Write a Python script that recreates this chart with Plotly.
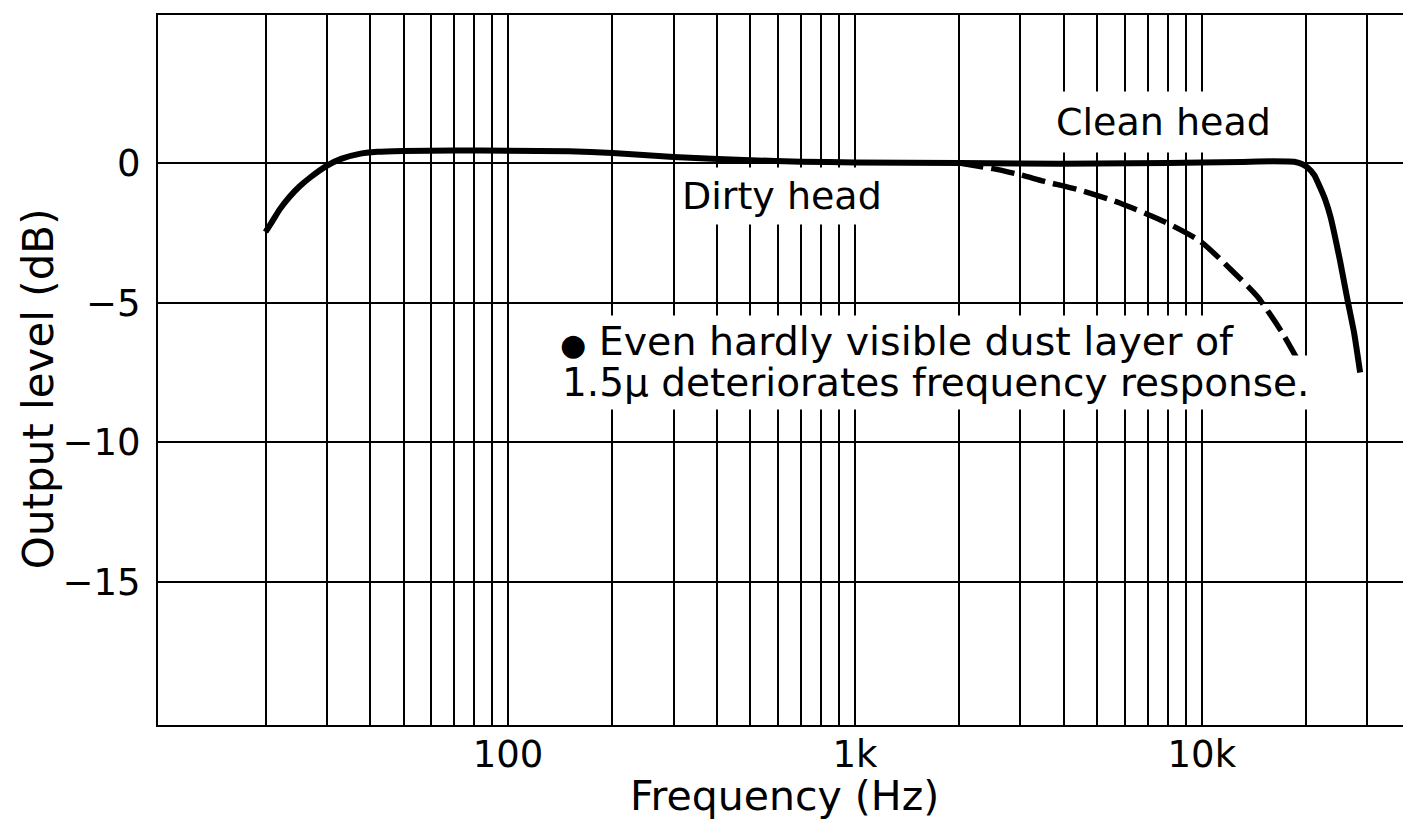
import plotly.graph_objects as go

# ---- data ----
clean_freq = [20, 21, 22, 23.5, 25, 27, 30, 33, 37, 42, 50, 70, 100, 150, 200, 300, 500, 700,
              1000, 2000, 3000, 5000, 8000, 10000, 13000, 16000, 18600, 19500, 20100, 21100,
              21900, 22700, 23500, 25000, 26300, 27500, 28600]
clean_db = [-2.47, -2.05, -1.65, -1.2, -0.85, -0.5, -0.1, 0.15, 0.32, 0.4, 0.43, 0.45, 0.44, 0.42,
            0.36, 0.22, 0.1, 0.05, 0.02, 0.0, -0.02, -0.02, 0.0, 0.02, 0.04, 0.06, 0.04, -0.04,
            -0.14, -0.43, -0.86, -1.32, -1.93, -3.47, -4.9, -6.1, -7.5]

dirty_freq = [2000, 2500, 3000, 3500, 4450, 5800, 7800, 9900, 12100, 14500, 16900, 19500]
dirty_db = [0.0, -0.2, -0.42, -0.65, -0.97, -1.43, -2.1, -2.8, -3.8, -4.8, -6.0, -7.35]

grid_freqs = [20, 30, 40, 50, 60, 70, 80, 90,
              100, 200, 300, 400, 500, 600, 700, 800, 900,
              1000, 2000, 3000, 4000, 5000, 6000, 7000, 8000, 9000,
              10000, 20000, 30000, 40000]
labelled = {100: "100", 1000: "1k", 10000: "10k"}
x_ticktext = [labelled.get(f, "") for f in grid_freqs]

y_tickvals = [-15, -10, -5, 0]
y_ticktext = ["\u221215", "\u221210", "\u22125", "0"]

FONT = "DejaVu Sans, Verdana, sans-serif"
BLACK = "black"

fig = go.Figure()
fig.add_trace(go.Scatter(x=dirty_freq, y=dirty_db, mode="lines",
                         line=dict(color=BLACK, width=5.5, dash="24px,8px", shape="spline",
                                   smoothing=0.6),
                         showlegend=False, hoverinfo="skip"))
fig.add_trace(go.Scatter(x=clean_freq, y=clean_db, mode="lines",
                         line=dict(color=BLACK, width=6, shape="spline", smoothing=0.5),
                         showlegend=False, hoverinfo="skip"))

fig.add_annotation(xref="x", yref="y", x=3.890, y=1.47, text="Clean head", showarrow=False,
                   font=dict(family=FONT, size=38, color=BLACK), bgcolor="white", borderpad=8)
fig.add_annotation(xref="x", yref="y", x=2.790, y=-1.18, text="Dirty head", showarrow=False,
                   font=dict(family=FONT, size=38, color=BLACK), bgcolor="white", borderpad=6)
# second line first so the first line's descenders stay visible
fig.add_annotation(xref="x", yref="y", x=2.141, y=-7.84, xanchor="left", yanchor="middle",
                   text="1.5\u03BC deteriorates frequency response.", showarrow=False,
                   font=dict(family=FONT, size=39, color=BLACK), bgcolor="white", borderpad=4)
fig.add_annotation(xref="x", yref="y", x=2.141, y=-6.37, xanchor="left", yanchor="middle",
                   text="<span style='font-size:30px'>\u25CF</span> Even hardly visible dust layer of",
                   showarrow=False,
                   font=dict(family=FONT, size=39.5, color=BLACK), bgcolor="white", borderpad=2)

# axis titles
fig.add_annotation(xref="paper", yref="paper", x=0.5, y=0, yanchor="middle", yshift=-71,
                   text="Frequency (Hz)", showarrow=False,
                   font=dict(family=FONT, size=41, color=BLACK))
fig.add_annotation(xref="paper", yref="paper", x=0, y=0.473, xanchor="center", xshift=-120,
                   textangle=-90, text="Output level (dB)", showarrow=False,
                   font=dict(family=FONT, size=42, color=BLACK))

# page has an 8px body margin: the figure is sized to the visible area
fig.update_layout(
    width=1403, height=813,
    margin=dict(l=150, r=0, t=7, b=96),
    paper_bgcolor="white", plot_bgcolor="white",
    font=dict(family=FONT, color=BLACK),
    xaxis=dict(type="log", range=[0.991, 4.603], automargin=False,
               tickmode="array", tickvals=grid_freqs, ticktext=x_ticktext,
               showgrid=True, gridcolor=BLACK, gridwidth=1.8,
               showline=True, linecolor=BLACK, linewidth=2.2, mirror=True,
               ticks="", ticklabelstandoff=-5,
               tickfont=dict(family=FONT, size=37, color=BLACK),
               zeroline=False),
    yaxis=dict(range=[-20.12, 5.30], automargin=False,
               tickmode="array", tickvals=y_tickvals, ticktext=y_ticktext,
               showgrid=True, gridcolor=BLACK, gridwidth=2.2,
               showline=True, linecolor=BLACK, linewidth=2.2, mirror=True,
               ticks="", ticklabelstandoff=8,
               tickfont=dict(family=FONT, size=37, color=BLACK),
               zeroline=False),
)

fig.write_html("out.html")
